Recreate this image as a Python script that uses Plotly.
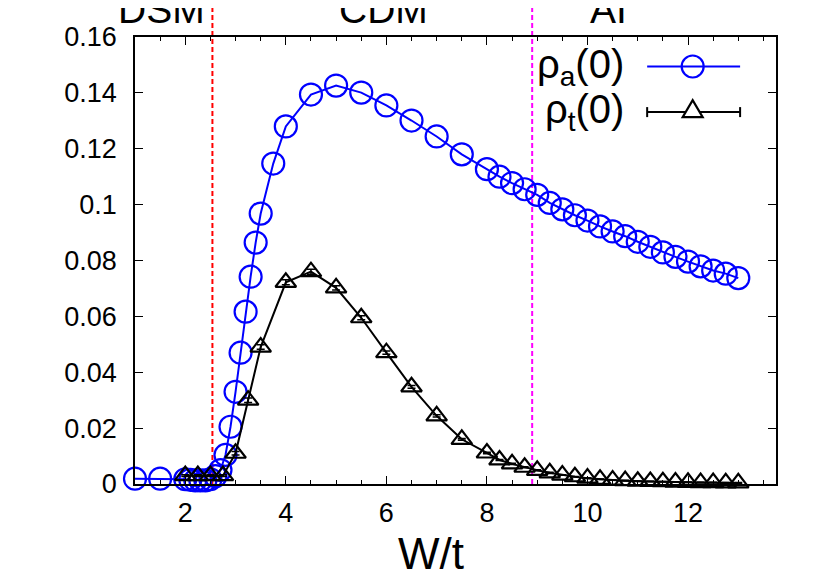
import plotly.graph_objects as go

# rho_a(0): blue open circles
w_a = [1.0, 1.5, 2.0, 2.1, 2.2, 2.3, 2.4, 2.5, 2.6, 2.7, 2.8, 2.9, 3.0, 3.1, 3.2, 3.3, 3.4, 3.5,
       3.75, 4.0, 4.5, 5.0, 5.5, 6.0, 6.5, 7.0, 7.5, 8.0, 8.25, 8.5, 8.75, 9.0, 9.25, 9.5, 9.75,
       10.0, 10.25, 10.5, 10.75, 11.0, 11.25, 11.5, 11.75, 12.0, 12.25, 12.5, 12.75, 13.0]
rho_a = [0.0019, 0.0019, 0.0017, 0.0015, 0.0013, 0.0013, 0.0013, 0.0017, 0.0028, 0.005, 0.0104,
         0.0205, 0.033, 0.047, 0.0617, 0.0742, 0.0864, 0.0968, 0.1147, 0.128, 0.1394, 0.1426,
         0.1401, 0.1355, 0.1301, 0.1244, 0.118, 0.1127, 0.110, 0.1077, 0.1055, 0.1035, 0.1006,
         0.0983, 0.0962, 0.0943, 0.0922, 0.0904, 0.0887, 0.0867, 0.0849, 0.0829, 0.0813, 0.0796,
         0.0779, 0.0764, 0.0753, 0.0737]

# rho_t(0): black open triangles with error bars
w_t = [2.0, 2.25, 2.5, 2.75, 3.0, 3.25, 3.5, 4.0, 4.5, 5.0, 5.5, 6.0, 6.5, 7.0, 7.5, 8.0,
       8.25, 8.5, 8.75, 9.0, 9.25, 9.5, 9.75, 10.0, 10.25, 10.5, 10.75, 11.0, 11.25, 11.5,
       11.75, 12.0, 12.25, 12.5, 12.75, 13.0]
rho_t = [0.003, 0.003, 0.003, 0.003, 0.011, 0.030, 0.049, 0.0722, 0.0760, 0.0702, 0.0595,
         0.0470, 0.0348, 0.0244, 0.0160, 0.0111, 0.0086, 0.0072, 0.0060, 0.0049, 0.0040,
         0.0032, 0.0026, 0.0021, 0.0017, 0.0014, 0.0012, 0.0010, 0.0009, 0.0008, 0.0007,
         0.0006, 0.0005, 0.0005, 0.0004, 0.0004]
err_t = [0.0003, 0.0003, 0.0003, 0.0003, 0.0006, 0.0008, 0.0008, 0.0009, 0.0009, 0.0008, 0.0007,
         0.0006, 0.0005, 0.0004, 0.0003, 0.0003, 0.0002, 0.0002, 0.0002, 0.0002, 0.0002,
         0.0001, 0.0001, 0.0001, 0.0001, 0.0001, 0.0001, 0.0001, 0.0001, 0.0001, 0.0001,
         0.0001, 0.0001, 0.0001, 0.0001, 0.0001]

# phase boundaries and labels
w_boundaries = [2.54, 8.9]
boundary_colors = ['#ff0000', '#ff00ff']
phase_names = ['DSM', 'CDM', 'AI']
phase_x = [1.52, 5.95, 10.42]

x_ticks = [2, 4, 6, 8, 10, 12]

FONT = 'Liberation Sans, Arial, sans-serif'

fig = go.Figure()
fig.add_trace(go.Scatter(
    x=w_a, y=rho_a, mode='lines+markers', showlegend=False, cliponaxis=False,
    line=dict(color='#0000ff', width=2),
    marker=dict(symbol='circle-open', size=22, color='#0000ff', line=dict(width=2.2)),
))
fig.add_trace(go.Scatter(
    x=w_t, y=rho_t, mode='lines+markers', showlegend=False, cliponaxis=False,
    line=dict(color='black', width=2),
    marker=dict(symbol='triangle-up-open', size=18, color='black', line=dict(width=2.2)),
    error_y=dict(type='data', array=err_t, color='black', thickness=1.5, width=4),
))

for xb, col in zip(w_boundaries, boundary_colors):
    fig.add_shape(type='line', xref='x', yref='paper', x0=xb, x1=xb, y0=0, y1=1.09,
                  line=dict(color=col, width=2, dash='5px,3px'), layer='below')

for name, xp in zip(phase_names, phase_x):
    fig.add_annotation(x=xp, y=1.009, xref='x', yref='paper', text=name, showarrow=False,
                       xanchor='center', yanchor='bottom', font=dict(size=39, color='black'))

# legend drawn gnuplot style: label on the left, sample on the right
leg_y = [0.934, 0.832]
leg_text = ['ρ<sub>a</sub>(0)', 'ρ<sub>t</sub>(0)']
for yy, txt in zip(leg_y, leg_text):
    fig.add_annotation(x=0.766, y=yy, xref='paper', yref='paper', text=txt, showarrow=False,
                       xanchor='right', yanchor='middle', font=dict(size=40, color='black'))

fig.add_shape(type='line', xref='paper', yref='paper', x0=0.799, x1=0.944, y0=leg_y[0], y1=leg_y[0],
              line=dict(color='#0000ff', width=2))
fig.add_shape(type='circle', xref='paper', yref='paper', xsizemode='pixel', ysizemode='pixel',
              xanchor=0.870, yanchor=leg_y[0], x0=-11, x1=11, y0=-11, y1=11,
              line=dict(color='#0000ff', width=2.2))
fig.add_shape(type='line', xref='paper', yref='paper', x0=0.799, x1=0.944, y0=leg_y[1], y1=leg_y[1],
              line=dict(color='black', width=2))
for xc in [0.799, 0.944]:
    fig.add_shape(type='line', xref='paper', yref='paper', xsizemode='pixel', ysizemode='pixel',
                  xanchor=xc, yanchor=leg_y[1], x0=0, x1=0, y0=-5, y1=5,
                  line=dict(color='black', width=2))
fig.add_shape(type='path', xref='paper', yref='paper', xsizemode='pixel', ysizemode='pixel',
              xanchor=0.870, yanchor=leg_y[1], path='M-10,-5 L10,-5 L0,12 Z',
              line=dict(color='black', width=2.2), fillcolor='white')

fig.add_annotation(x=0.462, y=-0.155, xref='paper', yref='paper', text='W/t', showarrow=False,
                   xanchor='center', yanchor='middle', font=dict(size=44, color='black'))

fig.update_xaxes(range=[1, 13.75], tickvals=x_ticks, ticks='inside', ticklen=8, tickwidth=1.2,
                 tickcolor='black', showline=True, linecolor='black', linewidth=1.5, mirror='ticks',
                 showgrid=False, zeroline=False, ticklabelstandoff=4,
                 tickfont=dict(size=27, color='black'),
                 minor=dict(dtick=0.5, ticks='inside', ticklen=4, tickcolor='black', tickwidth=1.2,
                            showgrid=False))
fig.update_yaxes(range=[0, 0.16], dtick=0.02, ticks='inside', ticklen=8, tickwidth=1.2,
                 tickcolor='black', showline=True, linecolor='black', linewidth=1.5, mirror='ticks',
                 showgrid=False, zeroline=False, ticklabelstandoff=11,
                 tickfont=dict(size=27, color='black'))

# the page body adds an 8px offset, so margins are set 8px smaller on the left/top
fig.update_layout(width=830, height=581, margin=dict(l=127, r=62, t=29, b=105),
                  paper_bgcolor='white', plot_bgcolor='white', font=dict(family=FONT),
                  showlegend=False)

fig.write_html('out.html')
